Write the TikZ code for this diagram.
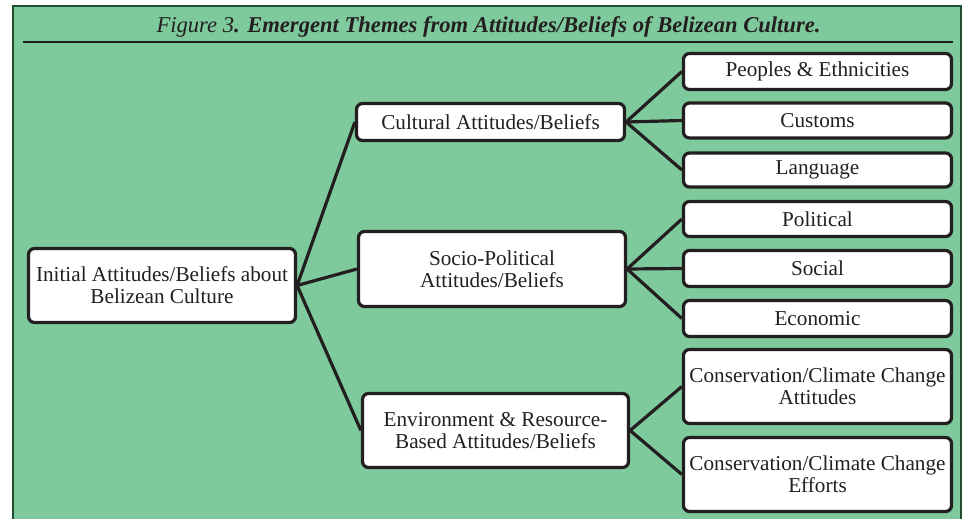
\documentclass[tikz,border=0pt]{standalone}
\usepackage{fontspec}
\setmainfont{Liberation Serif}
\definecolor{panelgreen}{HTML}{7ECA9C}
\definecolor{paneledge}{HTML}{1E4D30}
\definecolor{ink}{HTML}{231F20}
\tikzset{
  box/.style={draw=ink, fill=white, line width=3.2pt, rounded corners=6pt,
    align=center, inner sep=2pt, text=ink, font=\fontsize{21.2}{22}\selectfont},
  link/.style={draw=ink, line width=3.2pt},
}
\begin{document}
\begin{tikzpicture}[x=1pt,y=-1pt]
\useasboundingbox (0,0) rectangle (964,519);
\fill[white] (0,0) rectangle (964,519);
\draw[paneledge, fill=panelgreen, line width=2.5pt] (13,6) -- (13,530) -- (961,530) -- (961,6) -- cycle;
\node[text=ink, anchor=base, font=\fontsize{22.6}{26}\selectfont\itshape] (title) at (488.5,33)
  {Figure 3\textbf{. Emergent Themes from Attitudes/Beliefs of Belizean Culture.}};
\draw[ink, line width=2.2pt] (23,42) coordinate (rl) -- (953,42) coordinate (rr);

\node[box, minimum width=267pt, minimum height=74pt] (init) at (162,285.5) {Initial Attitudes/Beliefs about\\Belizean Culture};
\node[box, minimum width=268pt, minimum height=37pt] (cult) at (490.5,122) {Cultural Attitudes/Beliefs};
\node[box, minimum width=267pt, minimum height=75pt] (socio) at (492,269) {Socio-Political\\Attitudes/Beliefs};
\node[box, minimum width=266pt, minimum height=74pt] (env) at (495.5,430.5) {Environment \& Resource-\\Based Attitudes/Beliefs};

\node[box, minimum width=268pt, minimum height=36pt] (peo) at (817.5,71.5) {Peoples \& Ethnicities};
\node[box, minimum width=268pt, minimum height=35pt] (cus) at (817.5,120.5) {Customs};
\node[box, minimum width=268pt, minimum height=34pt] (lan) at (817.5,170) {Language};
\node[box, minimum width=268pt, minimum height=35pt] (pol) at (817.5,219) {Political};
\node[box, minimum width=268pt, minimum height=36pt] (soc) at (817.5,268.5) {Social};
\node[box, minimum width=268pt, minimum height=36pt] (eco) at (817.5,318.5) {Economic};
\node[box, minimum width=268pt, minimum height=74pt] (catt) at (817.5,386.5) {Conservation/Climate Change\\Attitudes};
\node[box, minimum width=268pt, minimum height=74pt] (ceff) at (817.5,474.5) {Conservation/Climate Change\\Efforts};

\path[link] (init.east) -- (cult.west);
\path[link] (init.east) -- (socio.west);
\path[link] (init.east) -- (env.west);
\path[link] (cult.east) -- (peo.west);
\path[link] (cult.east) -- (cus.west);
\path[link] (cult.east) -- (lan.west);
\path[link] (socio.east) -- (pol.west);
\path[link] (socio.east) -- (soc.west);
\path[link] (socio.east) -- (eco.west);
\path[link] (env.east) -- (catt.west);
\path[link] (env.east) -- (ceff.west);
\end{tikzpicture}
\end{document}
